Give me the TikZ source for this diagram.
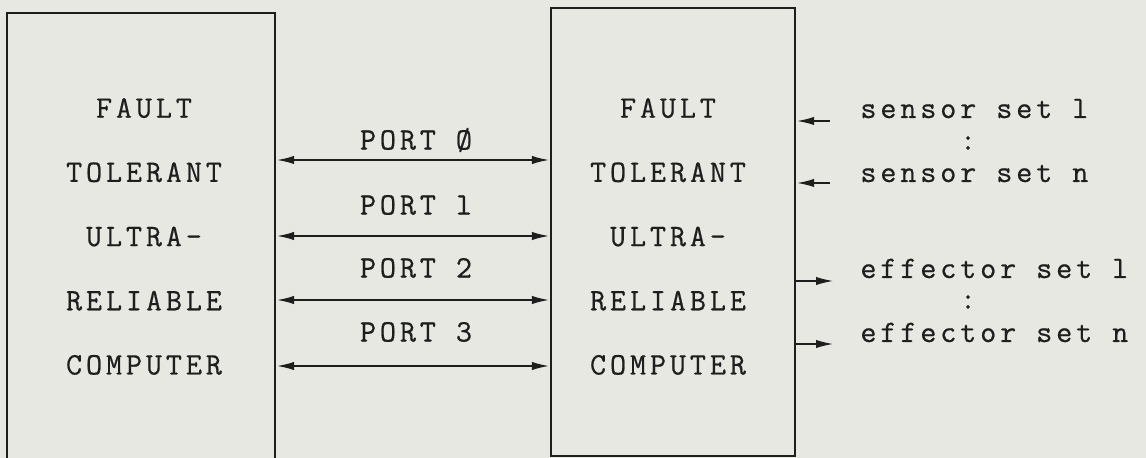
\documentclass[tikz,border=0pt]{standalone}
\usepackage{fontspec}
\newfontfamily\typewriter{Latin Modern Mono}[LetterSpace=12.5,FakeBold=0.6]
\usetikzlibrary{arrows.meta}
\definecolor{paper}{RGB}{231,232,225}
\definecolor{ink}{RGB}{30,30,30}
\begin{document}
\begin{tikzpicture}[x=0.5pt,y=-0.5pt,
  every node/.style={inner sep=0pt, text=ink,
    font=\typewriter\fontsize{15.6}{32.1}\selectfont},
  unit/.style={draw=ink, line width=1.2pt, rectangle, inner sep=0pt},
  tip/.tip={Latex[length=9pt,width=4.2pt]},
  link/.style={draw=ink, line width=1.1pt, tip-tip},
  feed/.style={draw=ink, line width=1.1pt, -tip},
  label/.style={align=center},
  io/.style={anchor=base west}
]
\useasboundingbox (0,0) rectangle (1146,458);
\fill[paper] (0,0) rectangle (1146,458);
\clip (0,0) rectangle (1146,458);

% the two computers
\node[unit, minimum width=134pt, minimum height=224pt] (lbox) at (141,237) {};
\node[unit, minimum width=122pt, minimum height=224pt] (rbox) at (673,232) {};
\node[label] (ltxt) at (144,236.5) {FAULT\\TOLERANT\\ULTRA-\\RELIABLE\\COMPUTER};
\node[label] (rtxt) at (668,236.5) {FAULT\\TOLERANT\\ULTRA-\\RELIABLE\\COMPUTER};

% inter-computer ports
\node (l0) at (416,140) {PORT Ø};
\node (l1) at (416,205) {PORT l};
\node (l2) at (416,268) {PORT 2};
\node (l3) at (416,332) {PORT 3};
\coordinate (p0) at (0,160);
\coordinate (p1) at (0,236);
\coordinate (p2) at (0,300);
\coordinate (p3) at (0,366);
\foreach \p in {p0,p1,p2,p3}
  \draw[link] (lbox.east |- \p) -- (rbox.west |- \p);

% sensor inputs
\node[io] (sen1) at (860,118) {sensor set l};
\node (sdots) at (968,143) {:};
\node[io] (senn) at (860,182) {sensor set n};
\coordinate (s1) at (830,121);
\coordinate (sn) at (830,183);
\draw[feed] (s1) -- (rbox.east |- s1);
\draw[feed] (sn) -- (rbox.east |- sn);

% effector outputs
\node[io] (eff1) at (860,278) {effector set l};
\node (edots) at (968,302) {:};
\node[io] (effn) at (860,342) {effector set n};
\coordinate (e1) at (834,281);
\coordinate (en) at (834,344);
\draw[feed] (rbox.east |- e1) -- (e1);
\draw[feed] (rbox.east |- en) -- (en);
\end{tikzpicture}
\end{document}
